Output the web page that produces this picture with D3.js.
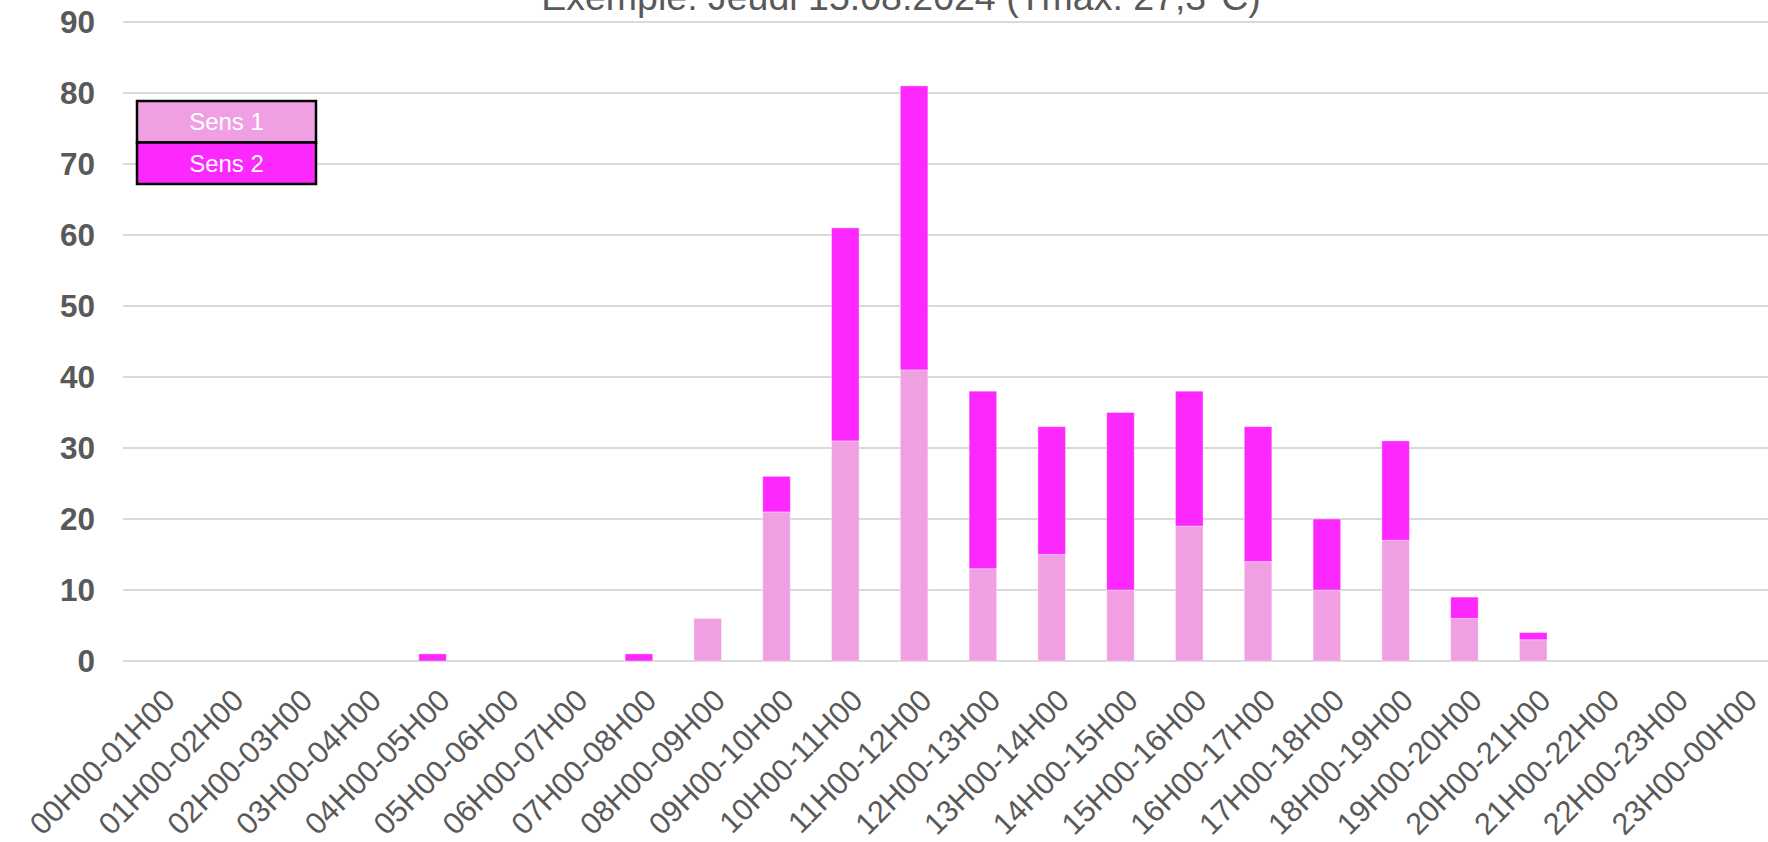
<!DOCTYPE html>
<html>
<head>
<meta charset="utf-8">
<script src="https://cdn.jsdelivr.net/npm/d3@7"></script>
<style>
html,body{margin:0;padding:0;background:#fff;overflow:hidden;}
svg{display:block;font-family:"Liberation Sans",Arial,sans-serif;}
</style>
</head>
<body>
<svg id="chart" width="1768" height="842"></svg>
<script>
const categories = ["00H00-01H00","01H00-02H00","02H00-03H00","03H00-04H00","04H00-05H00","05H00-06H00","06H00-07H00","07H00-08H00","08H00-09H00","09H00-10H00","10H00-11H00","11H00-12H00","12H00-13H00","13H00-14H00","14H00-15H00","15H00-16H00","16H00-17H00","17H00-18H00","18H00-19H00","19H00-20H00","20H00-21H00","21H00-22H00","22H00-23H00","23H00-00H00"];
const sens1 = [0,0,0,0,0,0,0,0,6,21,31,41,13,15,10,19,14,10,17,6,3,0,0,0];
const sens2 = [0,0,0,0,1,0,0,1,0,5,30,40,25,18,25,19,19,10,14,3,1,0,0,0];
const seriesNames = ["Sens 1","Sens 2"];
const seriesColors = ["#f09fe3","#fd28fd"];
const yTicks = [0,10,20,30,40,50,60,70,80,90];
const title = "Exemple: Jeudi 15.08.2024 (Tmax: 27,3°C)";

const svg = d3.select("#chart");
const x = d3.scaleBand().domain(categories).range([123, 1774]).paddingInner(0.6).paddingOuter(0.3);
const y = d3.scaleLinear().domain([0, 90]).range([661, 22]);

// gridlines
svg.append("g").selectAll("line").data(yTicks).join("line")
  .attr("x1", 123).attr("x2", 1774)
  .attr("y1", d => y(d)).attr("y2", d => y(d))
  .attr("stroke", "#d9d9d9").attr("stroke-width", 2);

// y labels
svg.append("g").selectAll("text").data(yTicks).join("text")
  .attr("x", 95).attr("y", d => y(d)).attr("dy", "0.36em")
  .attr("text-anchor", "end").attr("font-size", 31.5).attr("font-weight", "bold")
  .attr("fill", "#595959").text(d => d);

// stacked bars
const rows = categories.map((c, i) => ({cat: c, s1: sens1[i], s2: sens2[i]}));
const stack = d3.stack().keys(["s1","s2"])(rows);
svg.append("g").selectAll("g").data(stack).join("g")
  .attr("fill", (d, i) => seriesColors[i])
  .selectAll("rect").data(d => d.filter(p => p[1] - p[0] > 0)).join("rect")
  .attr("x", d => x(d.data.cat)).attr("width", x.bandwidth())
  .attr("y", d => y(d[1])).attr("height", d => y(d[0]) - y(d[1]))
  .attr("stroke", "#ffffff").attr("stroke-opacity", 0.35).attr("stroke-width", 1);

// x labels
svg.append("g").selectAll("text").data(categories).join("text")
  .attr("transform", d => `translate(${x(d) + x.bandwidth()/2 + 4},687) rotate(-45)`)
  .attr("dy", "0.71em")
  .attr("text-anchor", "end").attr("font-size", 30.5)
  .attr("fill", "#595959").text(d => d);

// title (clipped at top like reference)
svg.append("text").attr("x", 901).attr("y", 10).attr("text-anchor", "middle")
  .attr("font-size", 37.5).attr("fill", "#595959").text(title);

// legend
const lg = svg.append("g");
const lx = 137, ly = 101, lw = 179, lh = 41.5;
seriesNames.forEach((n, i) => {
  lg.append("rect").attr("x", lx).attr("y", ly + i*lh).attr("width", lw).attr("height", lh)
    .attr("fill", seriesColors[i]).attr("stroke", "#000").attr("stroke-width", 2.5);
  lg.append("text").attr("x", lx + lw/2).attr("y", ly + i*lh + lh/2).attr("dy", "0.35em")
    .attr("text-anchor", "middle").attr("font-size", 24).attr("fill", "#ffffff").text(n);
});
</script>
</body>
</html>
